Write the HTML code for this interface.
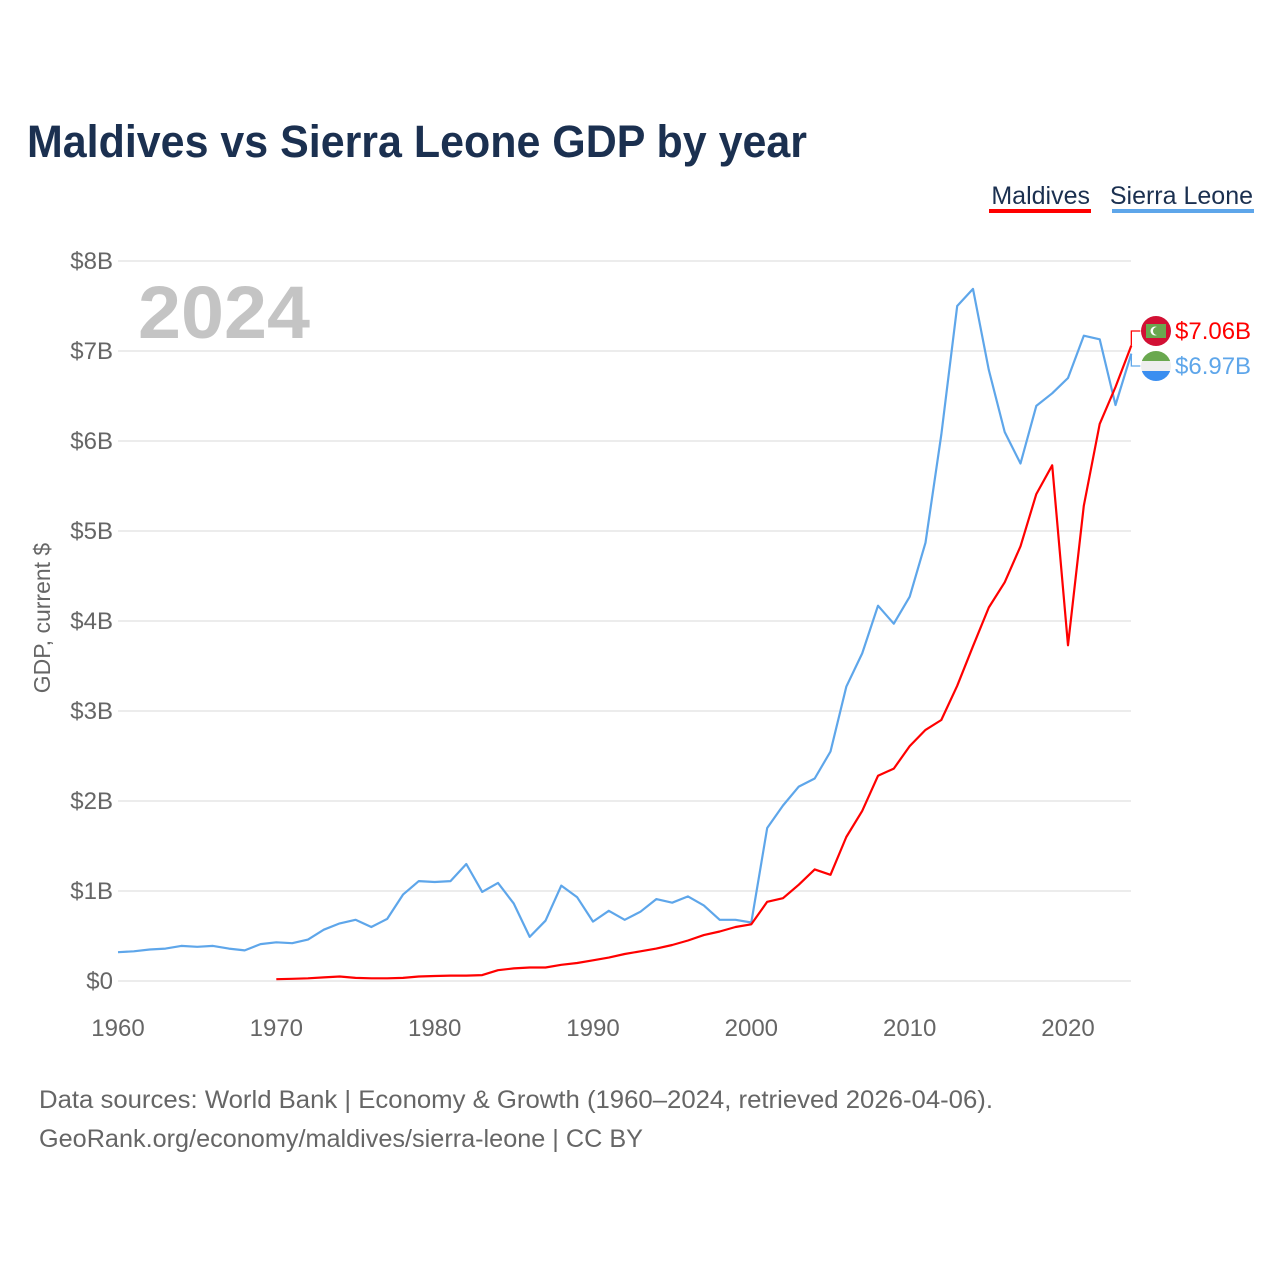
<!DOCTYPE html>
<html><head><meta charset="utf-8"><style>
body{margin:0;background:#fff;width:1280px;height:1280px;overflow:hidden;font-family:"Liberation Sans",sans-serif}
</style></head><body>
<svg id="chart" width="1280" height="1280" xmlns="http://www.w3.org/2000/svg" font-family="Liberation Sans, sans-serif">
<text x="27" y="157" font-size="45" font-weight="bold" fill="#1b3050" textLength="780" lengthAdjust="spacingAndGlyphs">Maldives vs Sierra Leone GDP by year</text>
<g>
<text x="1090" y="204" font-size="25" fill="#1b3050" text-anchor="end">Maldives</text>
<rect x="989" y="209" width="102" height="4" fill="#ff0000"/>
<text x="1253" y="204" font-size="25" fill="#1b3050" text-anchor="end">Sierra Leone</text>
<rect x="1112" y="209" width="142" height="4" fill="#5ea6ea"/>
</g>
<text x="138" y="338" font-size="74" font-weight="bold" fill="#c4c4c4" textLength="172" lengthAdjust="spacingAndGlyphs">2024</text>
<text transform="translate(50,618) rotate(-90)" font-size="23" fill="#666" text-anchor="middle">GDP, current $</text>
<g id="grid"></g><g id="lines"></g><g id="labels"></g>
<text x="39" y="1108" font-size="25" fill="#666" textLength="954" lengthAdjust="spacingAndGlyphs">Data sources: World Bank | Economy &amp; Growth (1960–2024, retrieved 2026-04-06).</text>
<text x="39" y="1147" font-size="25" fill="#666" textLength="604" lengthAdjust="spacingAndGlyphs">GeoRank.org/economy/maldives/sierra-leone | CC BY</text>
</svg>
<script>
const yTicks=[0,1,2,3,4,5,6,7,8];
const yTickLabels=["$0","$1B","$2B","$3B","$4B","$5B","$6B","$7B","$8B"];
const xTicks=[1960,1970,1980,1990,2000,2010,2020];
const slStart=1960;
const slValues=[0.32,0.33,0.35,0.36,0.39,0.38,0.39,0.36,0.34,0.41,0.43,0.42,0.46,0.57,0.64,0.68,0.60,0.69,0.96,1.11,1.10,1.11,1.30,0.99,1.09,0.86,0.49,0.67,1.06,0.93,0.66,0.78,0.68,0.77,0.91,0.87,0.94,0.84,0.68,0.68,0.65,1.70,1.95,2.16,2.25,2.55,3.27,3.64,4.17,3.97,4.27,4.87,6.07,7.50,7.69,6.79,6.10,5.75,6.39,6.53,6.70,7.17,7.13,6.40,6.97];
const mvStart=1970;
const mvValues=[0.02,0.025,0.03,0.04,0.05,0.035,0.03,0.03,0.035,0.05,0.055,0.06,0.06,0.065,0.12,0.14,0.15,0.15,0.18,0.2,0.23,0.26,0.3,0.33,0.36,0.4,0.45,0.51,0.55,0.6,0.63,0.88,0.92,1.07,1.24,1.18,1.60,1.89,2.28,2.36,2.61,2.79,2.90,3.28,3.72,4.15,4.43,4.83,5.41,5.73,3.73,5.28,6.19,6.60,7.06];
const NS="http://www.w3.org/2000/svg";
const xS=y=>118+(y-1960)*(950/60);
const yS=v=>981-v*90;
function mk(t,a,p){const e=document.createElementNS(NS,t);for(const k in a)e.setAttribute(k,a[k]);p.appendChild(e);return e;}
const grid=document.getElementById('grid'),lines=document.getElementById('lines'),labels=document.getElementById('labels');
yTicks.forEach((v,i)=>{
 const l=mk('line',{x1:118,x2:1131,y1:yS(v),y2:yS(v),stroke:'#e6e6e6','stroke-width':1.5},grid);
 
 
 const t=mk('text',{x:113,y:yS(v)+8,'font-size':24,fill:'#666','text-anchor':'end'},grid);
 t.textContent=yTickLabels[i];
 
 
});
xTicks.forEach(y=>{
 const t=mk('text',{x:xS(y),y:1036,'font-size':24,fill:'#666','text-anchor':'middle'},grid);
 t.textContent=y;
 
 
});
function path(vals,start,color,name){
 const d=vals.map((v,i)=>(i?'L':'M')+xS(start+i).toFixed(1)+' '+yS(v).toFixed(1)).join(' ');
 const p=mk('path',{d:d,fill:'none',stroke:color,'stroke-width':2.2,'stroke-linejoin':'round'},lines);
 
 
}
path(slValues,slStart,'#5ea6ea','sierra-leone-line');
path(mvValues,mvStart,'#ff0000','maldives-line');
function endLabel(val,color,cy,name,flag){
 const ey=yS(val),x0=xS(2024);
 const c=mk('path',{d:`M${x0} ${ey} L${x0} ${cy} L${x0+9} ${cy}`,fill:'none',stroke:color,'stroke-width':1.3},labels);
 
 
 flag(cy);
 const t=mk('text',{x:1175,y:cy+8,'font-size':24,fill:color},labels);
 t.textContent='$'+val.toFixed(2)+'B';
 
 
}
endLabel(mvValues[mvValues.length-1],'#ff0000',331,'maldives',cy=>{
 const g=mk('g',{},labels);
 
 
 mk('circle',{cx:1156,cy:cy,r:15,fill:'#d21034'},g);
 mk('rect',{x:1146,y:cy-7,width:20,height:14,fill:'#6aa84f'},g);
 mk('circle',{cx:1155,cy:cy,r:4.5,fill:'#fff'},g);
 mk('circle',{cx:1157,cy:cy,r:4,fill:'#6aa84f'},g);
});
endLabel(slValues[slValues.length-1],'#5ea6ea',366,'sierra-leone',cy=>{
 const g=mk('g',{},labels);
 
 
 mk('clipPath',{id:'fc'},g);
 mk('circle',{cx:1156,cy:cy,r:15},g.lastChild);
 mk('rect',{x:1140,y:cy-16,width:32,height:11,fill:'#6aa84f','clip-path':'url(#fc)'},g);
 mk('rect',{x:1140,y:cy-5,width:32,height:10,fill:'#eeeeee','clip-path':'url(#fc)'},g);
 mk('rect',{x:1140,y:cy+5,width:32,height:11,fill:'#3a8ef0','clip-path':'url(#fc)'},g);
});
</script>
</body></html>
